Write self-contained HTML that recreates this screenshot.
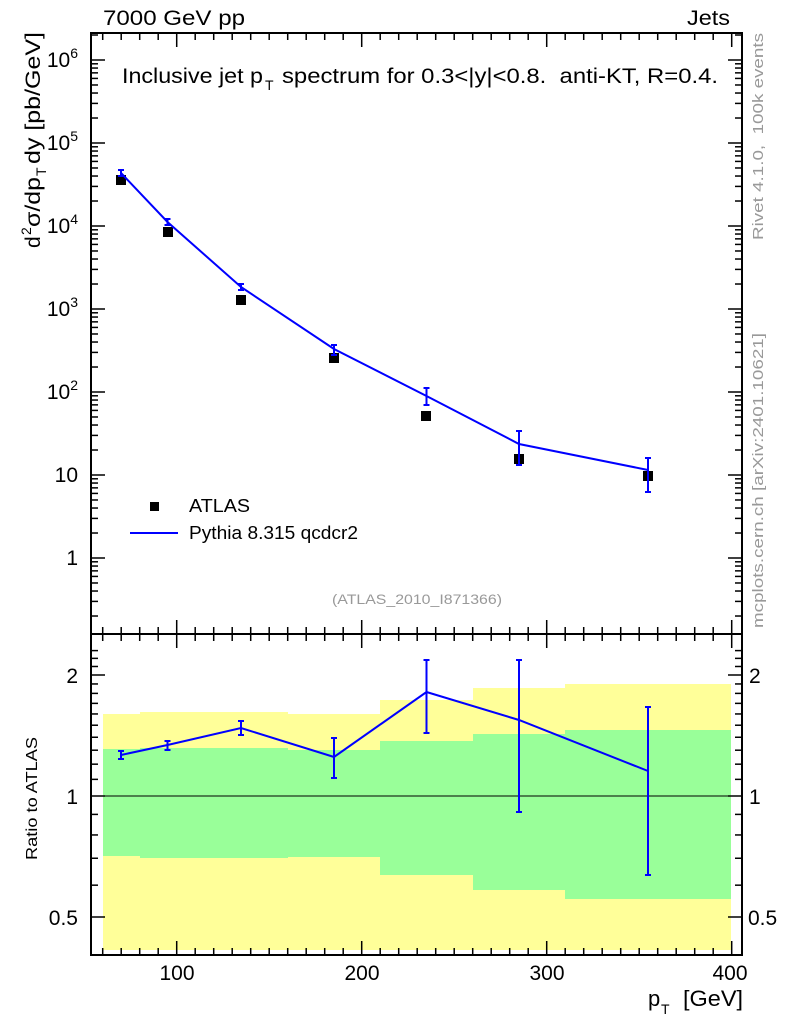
<!DOCTYPE html>
<html><head><meta charset="utf-8"><style>
body{margin:0;background:#fff;}
svg text{font-family:"Liberation Sans",sans-serif;}
</style></head><body>
<svg width="786" height="1024" xmlns="http://www.w3.org/2000/svg">
<g>
<rect x="103" y="714" width="37" height="236" fill="#ffff99"/>
<rect x="140" y="712" width="148" height="238" fill="#ffff99"/>
<rect x="288" y="714" width="92" height="236" fill="#ffff99"/>
<rect x="380" y="700" width="93" height="250" fill="#ffff99"/>
<rect x="473" y="688" width="92" height="262" fill="#ffff99"/>
<rect x="565" y="684" width="166" height="266" fill="#ffff99"/>
<rect x="103" y="749" width="37" height="107" fill="#99ff99"/>
<rect x="140" y="748" width="148" height="110" fill="#99ff99"/>
<rect x="288" y="750" width="92" height="107" fill="#99ff99"/>
<rect x="380" y="741" width="93" height="134" fill="#99ff99"/>
<rect x="473" y="734" width="92" height="156" fill="#99ff99"/>
<rect x="565" y="730" width="166" height="169" fill="#99ff99"/>
</g>
<line x1="92" y1="796" x2="742" y2="796" stroke="#000" stroke-width="1"/>
<rect x="91" y="33" width="651" height="601" fill="none" stroke="#000" stroke-width="2"/>
<rect x="91" y="634" width="651" height="321" fill="none" stroke="#000" stroke-width="2"/>
<g id="ticks" stroke="#000" stroke-width="1.5"></g>
<g fill="#000">
<rect x="116" y="175" width="10" height="10"/>
<rect x="163" y="227" width="10" height="10"/>
<rect x="236" y="295" width="10" height="10"/>
<rect x="329" y="353" width="10" height="10"/>
<rect x="421" y="411" width="10" height="10"/>
<rect x="514" y="454" width="10" height="10"/>
<rect x="643" y="471" width="10" height="10"/>
</g>
<g stroke="#0000ff" stroke-width="2" fill="none">
<polyline points="121,173 167.5,222 241,287 334,349 426.5,396 519,444 648,470"/>
<path d="M121,170V176M118,170H124M118,176H124 M167.5,219V225M164.5,219H170.5M164.5,225H170.5 M241,284V290M238,284H244M238,290H244 M334,345V355M331,345H337M331,355H337 M426.5,388V405M423.5,388H429.5M423.5,405H429.5 M519,431V465M516,431H522M516,465H522 M648,458V492M645,458H651M645,492H651"/>
<polyline points="121,755 167.5,745 241,728 334,757 426.5,692 519,720 648,771"/>
<path d="M121,751V759M118,751H124M118,759H124 M167.5,741V750M164.5,741H170.5M164.5,750H170.5 M241,721V735M238,721H244M238,735H244 M334,738V778M331,738H337M331,778H337 M426.5,660V733M423.5,660H429.5M423.5,733H429.5 M519,660V812M516,660H522M516,812H522 M648,707V875M645,707H651M645,875H651"/>
<line x1="130" y1="533" x2="178" y2="533"/>
</g>
<rect x="150" y="502" width="9" height="9" fill="#000"/>
<text x="189" y="512" font-size="18" textLength="61" lengthAdjust="spacingAndGlyphs">ATLAS</text>
<text x="189" y="539" font-size="18" textLength="169" lengthAdjust="spacingAndGlyphs">Pythia 8.315 qcdcr2</text>
<text x="332" y="604" font-size="14" fill="#999" textLength="170" lengthAdjust="spacingAndGlyphs">(ATLAS_2010_I871366)</text>
<text x="103" y="25" font-size="21" textLength="142" lengthAdjust="spacingAndGlyphs">7000 GeV pp</text>
<text x="687" y="25" font-size="21" textLength="43" lengthAdjust="spacingAndGlyphs">Jets</text>
<text x="122" y="83" font-size="21" textLength="141" lengthAdjust="spacingAndGlyphs">Inclusive jet p</text>
<text x="265" y="90" font-size="14">T</text>
<text x="282" y="83" font-size="21" textLength="436" lengthAdjust="spacingAndGlyphs">spectrum for 0.3&lt;|y|&lt;0.8.&#160; anti-KT, R=0.4.</text>
<g font-size="21" text-anchor="end">
<text x="78" y="67">10<tspan font-size="14" dy="-9">6</tspan></text>
<text x="78" y="150">10<tspan font-size="14" dy="-9">5</tspan></text>
<text x="78" y="233">10<tspan font-size="14" dy="-9">4</tspan></text>
<text x="78" y="316">10<tspan font-size="14" dy="-9">3</tspan></text>
<text x="78" y="399">10<tspan font-size="14" dy="-9">2</tspan></text>
<text x="78" y="482">10</text>
<text x="78" y="565">1</text>
<text x="78" y="683">2</text>
<text x="78" y="804">1</text>
<text x="78" y="925">0.5</text>
</g>
<g font-size="21" text-anchor="start">
<text x="749" y="683">2</text>
<text x="749" y="804">1</text>
<text x="748" y="925">0.5</text>
</g>
<g font-size="21" text-anchor="middle">
<text x="177" y="980">100</text>
<text x="362" y="980">200</text>
<text x="547" y="980">300</text>
<text x="730" y="980">400</text>
</g>
<text x="648" y="1006" font-size="22">p</text>
<text x="661" y="1014" font-size="14">T</text>
<text x="683" y="1006" font-size="22" textLength="60" lengthAdjust="spacingAndGlyphs">[GeV]</text>
<g transform="translate(40,0) rotate(-90)" font-size="21">
<text x="-248" y="0">d</text>
<text x="-235" y="-9" font-size="14">2</text>
<text x="-227" y="0" textLength="50" lengthAdjust="spacingAndGlyphs">σ/dp</text>
<text x="-176" y="6" font-size="14">T</text>
<text x="-164" y="0" textLength="132" lengthAdjust="spacingAndGlyphs">dy [pb/GeV]</text>
</g>
<text transform="translate(37,860) rotate(-90)" font-size="16" textLength="123" lengthAdjust="spacingAndGlyphs">Ratio to ATLAS</text>
<text transform="translate(763,240) rotate(-90)" font-size="15" fill="#999" textLength="207" lengthAdjust="spacingAndGlyphs">Rivet 4.1.0,&#160; 100k events</text>
<text transform="translate(763,628) rotate(-90)" font-size="15" fill="#999" textLength="295" lengthAdjust="spacingAndGlyphs">mcplots.cern.ch [arXiv:2401.10621]</text>
</svg>
<script>
var g=document.getElementById('ticks'),s='';
function L(a,b,c,d){s+='<line x1="'+a+'" y1="'+b+'" x2="'+c+'" y2="'+d+'"/>';}
function X(v){return 176.7+(v-100)*1.85;}
for(var v=60;v<=400;v+=10){var x=X(v),m=(v%100==0);var l=m?14:7;
L(x,634,x,634-l);L(x,33,x,33+l);L(x,955,x,955-l);L(x,634,x,634+l);}
for(var e=-1;e<=6;e++){for(var k=1;k<10;k++){var y=558-83*(e+Math.log10(k));if(y<33||y>634)continue;var l=k==1?14:7;L(91,y,91+l,y);L(742,y,742-l,y);}}
var rs=[0.5,0.6,0.7,0.8,0.9,1,1.1,1.2,1.3,1.4,1.5,1.6,1.7,1.8,1.9,2,2.1,2.2,2.3,0.4];
rs.forEach(function(r){var y=796-121*Math.log2(r);if(y<634||y>955)return;var l=(r==0.5||r==1||r==2)?14:7;L(91,y,91+l,y);L(742,y,742-l,y);});
g.innerHTML=s;
</script>
</body></html>
